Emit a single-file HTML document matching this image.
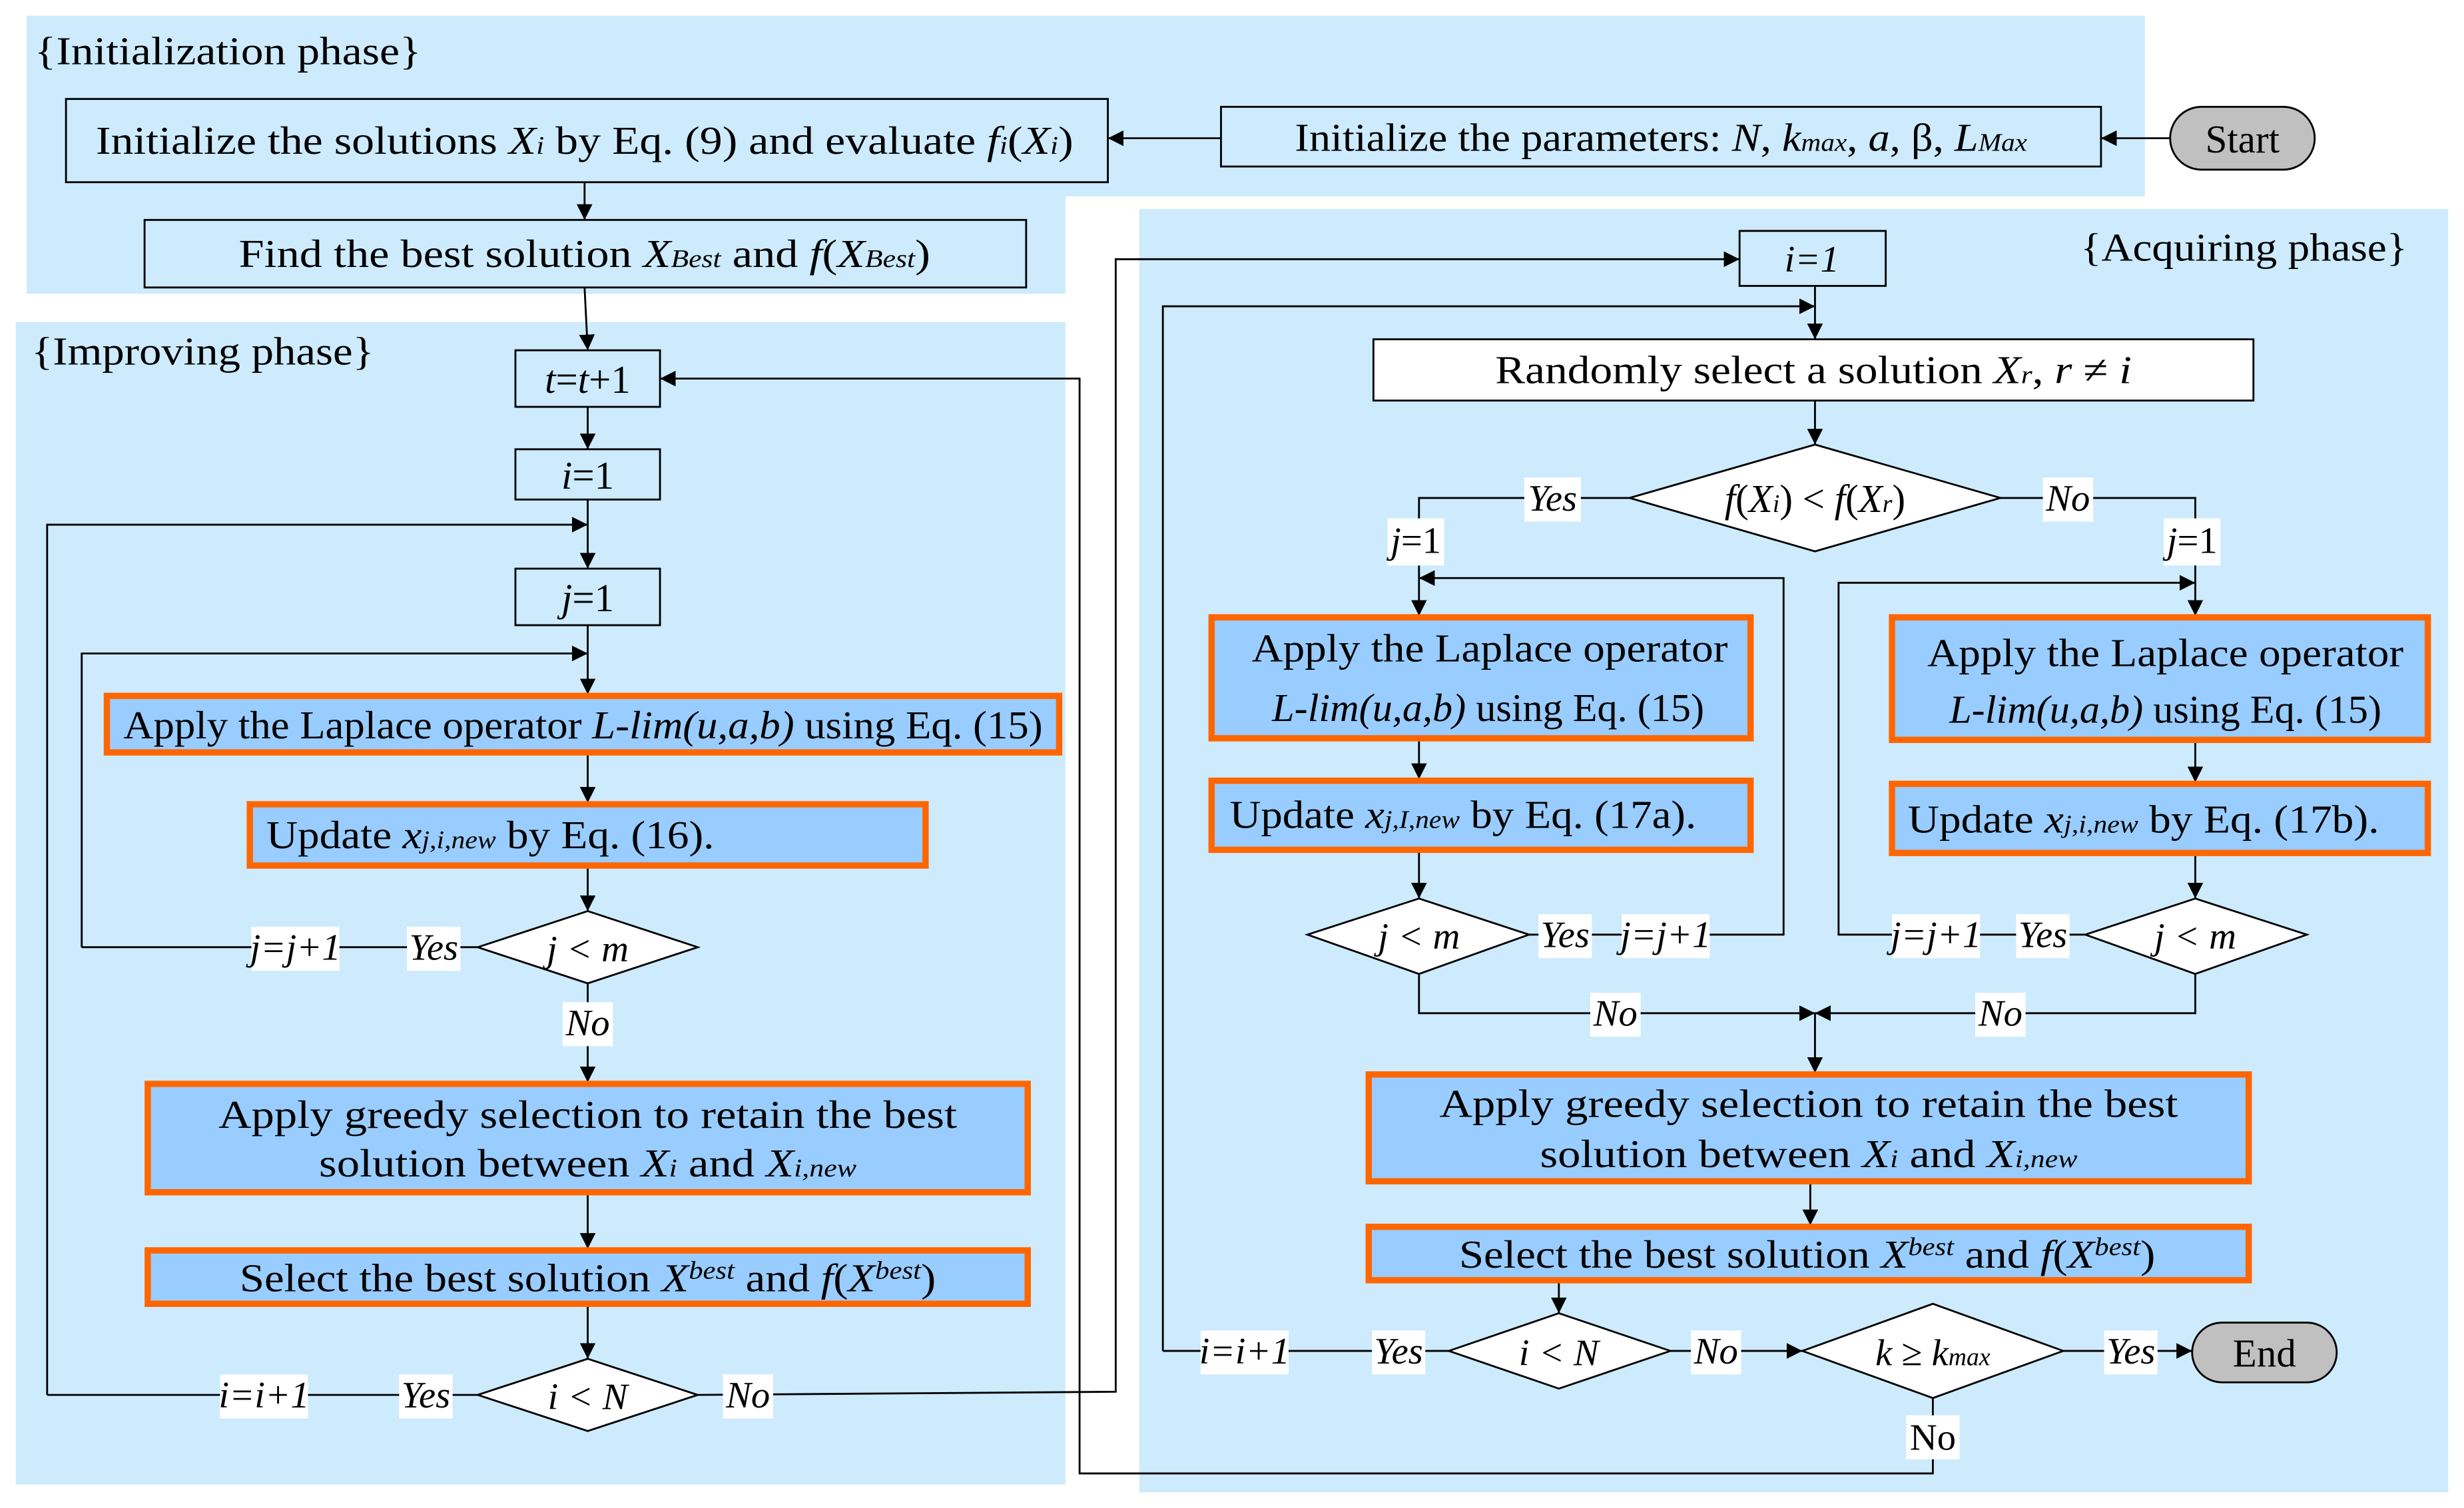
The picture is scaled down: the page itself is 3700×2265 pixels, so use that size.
<!DOCTYPE html>
<html><head><meta charset="utf-8"><style>html,body{margin:0;padding:0;background:#fff}svg{display:block}</style></head>
<body>
<svg width="3700" height="2265" viewBox="0 0 1568 960" preserveAspectRatio="none" xmlns="http://www.w3.org/2000/svg" font-family="Liberation Serif, serif" font-size="25">
<defs>
<marker id="a" viewBox="0 0 10 10" refX="10" refY="5" markerWidth="10" markerHeight="10" markerUnits="userSpaceOnUse" orient="auto"><path d="M0,0 L10,5 L0,10 z" fill="#000"/></marker>
</defs>
<polygon points="17,10 1365,10 1365,125 678,125 678,187 17,187" fill="#cdebfd"/>
<rect x="10" y="205" width="668" height="740" fill="#cdebfd"/>
<rect x="725" y="133" width="833" height="817" fill="#cdebfd"/>
<text x="22" y="41" textLength="246" lengthAdjust="spacingAndGlyphs">{Initialization phase}</text>
<text x="20" y="232" textLength="218" lengthAdjust="spacingAndGlyphs">{Improving phase}</text>
<text x="1532" y="166" text-anchor="end" textLength="208" lengthAdjust="spacingAndGlyphs">{Acquiring phase}</text>

<g stroke="#000" stroke-width="1.2" fill="none">
<line x1="1381" y1="88" x2="1337" y2="88" marker-end="url(#a)"/>
<line x1="777" y1="88" x2="705" y2="88" marker-end="url(#a)"/>
<line x1="372" y1="116" x2="372" y2="140" marker-end="url(#a)"/>
<line x1="372" y1="183" x2="374" y2="223" marker-end="url(#a)"/>
<line x1="374" y1="259" x2="374" y2="286" marker-end="url(#a)"/>
<line x1="374" y1="318" x2="374" y2="362" marker-end="url(#a)"/>
<polyline points="30,888 30,334 374,334" marker-end="url(#a)"/>
<line x1="374" y1="398" x2="374" y2="442" marker-end="url(#a)"/>
<polyline points="52,603 52,416 374,416" marker-end="url(#a)"/>
<line x1="374" y1="480" x2="374" y2="511" marker-end="url(#a)"/>
<line x1="374" y1="552" x2="374" y2="580" marker-end="url(#a)"/>
<line x1="52" y1="603" x2="304" y2="603"/>
<line x1="374" y1="626" x2="374" y2="689" marker-end="url(#a)"/>
<line x1="374" y1="760" x2="374" y2="795" marker-end="url(#a)"/>
<line x1="374" y1="831" x2="374" y2="865" marker-end="url(#a)"/>
<line x1="30" y1="888" x2="304" y2="888"/>
<polyline points="444,888 710,886 710,165 1107,165" marker-end="url(#a)"/>
<polyline points="1230,890 1230,938 687,938 687,241 420,241" marker-end="url(#a)"/>
<line x1="1155" y1="182" x2="1155" y2="216" marker-end="url(#a)"/>
<polyline points="740,860 740,195 1155,195" marker-end="url(#a)"/>
<line x1="1155" y1="255" x2="1155" y2="283" marker-end="url(#a)"/>
<polyline points="1037,317 903,317 903,392" marker-end="url(#a)"/>
<polyline points="1273,317 1397,317 1397,392" marker-end="url(#a)"/>
<line x1="903" y1="471" x2="903" y2="496" marker-end="url(#a)"/>
<line x1="903" y1="542" x2="903" y2="572" marker-end="url(#a)"/>
<polyline points="973,595 1135,595 1135,368 903,368" marker-end="url(#a)"/>
<line x1="1397" y1="472" x2="1397" y2="498" marker-end="url(#a)"/>
<line x1="1397" y1="544" x2="1397" y2="572" marker-end="url(#a)"/>
<polyline points="1327,595 1170,595 1170,371 1397,371" marker-end="url(#a)"/>
<polyline points="903,620 903,645 1155,645" marker-end="url(#a)"/>
<polyline points="1397,620 1397,645 1155,645" marker-end="url(#a)"/>
<line x1="1155" y1="645" x2="1155" y2="683" marker-end="url(#a)"/>
<line x1="1152" y1="753" x2="1152" y2="780" marker-end="url(#a)"/>
<line x1="992" y1="816" x2="992" y2="836" marker-end="url(#a)"/>
<line x1="740" y1="860" x2="922" y2="860"/>
<line x1="1063" y1="860" x2="1147" y2="860" marker-end="url(#a)"/>
<line x1="1313" y1="860" x2="1395" y2="860" marker-end="url(#a)"/>
</g>

<g stroke="#000" stroke-width="1.2" fill="#fff">
<rect x="42" y="63" width="663" height="53" fill="#cdebfd"/>
<rect x="777" y="68" width="560" height="38" fill="#cdebfd"/>
<rect x="1381" y="68" width="92" height="40" rx="20" fill="#c0c0c0"/>
<rect x="92" y="140" width="561" height="43" fill="#cdebfd"/>
<rect x="328" y="223" width="92" height="36" fill="#cdebfd"/>
<rect x="328" y="286" width="92" height="32" fill="#cdebfd"/>
<rect x="328" y="362" width="92" height="36" fill="#cdebfd"/>
<polygon points="304,603 374,580 444,603 374,626"/>
<polygon points="304,888 374,865 444,888 374,911"/>
<rect x="1107" y="147" width="93" height="35" fill="#cdebfd"/>
<rect x="874" y="216" width="560" height="39"/>
<polygon points="1037,317 1155,283 1273,317 1155,351"/>
<polygon points="832,595 903,572 973,595 903,620"/>
<polygon points="1327,595 1397,572 1468,595 1397,620"/>
<polygon points="922,860 992,836 1063,860 992,884"/>
<polygon points="1147,860 1230,830 1313,860 1230,890"/>
<rect x="1395" y="842" width="92" height="38" rx="19" fill="#c0c0c0"/>
</g>
<g stroke="#ff6600" stroke-width="4" fill="#99ccff">
<rect x="68" y="443" width="606" height="36"/>
<rect x="159" y="512" width="430" height="39"/>
<rect x="94" y="690" width="560" height="69"/>
<rect x="94" y="796" width="560" height="34"/>
<rect x="771" y="393" width="343" height="77"/>
<rect x="771" y="497" width="343" height="44"/>
<rect x="1204" y="393" width="341" height="78"/>
<rect x="1204" y="499" width="341" height="44"/>
<rect x="871" y="684" width="560" height="68"/>
<rect x="871" y="781" width="560" height="34"/>
</g>

<g fill="#fff">
<rect x="160" y="590" width="56" height="28"/><rect x="259" y="590" width="34" height="28"/>
<rect x="358" y="638" width="32" height="28"/>
<rect x="140" y="875" width="56" height="28"/><rect x="254" y="875" width="34" height="28"/>
<rect x="460" y="875" width="32" height="28"/>
<rect x="970" y="304" width="36" height="28"/><rect x="1300" y="304" width="32" height="28"/>
<rect x="883" y="330" width="36" height="30"/><rect x="1377" y="330" width="36" height="30"/>
<rect x="979" y="582" width="34" height="28"/><rect x="1032" y="582" width="56" height="28"/>
<rect x="1204" y="582" width="56" height="28"/><rect x="1283" y="582" width="34" height="28"/>
<rect x="1012" y="632" width="32" height="28"/><rect x="1257" y="632" width="32" height="28"/>
<rect x="764" y="847" width="56" height="28"/><rect x="873" y="847" width="34" height="28"/>
<rect x="1076" y="847" width="32" height="28"/><rect x="1339" y="847" width="34" height="28"/>
<rect x="1213" y="901" width="34" height="28"/>
</g>

<g text-anchor="middle">
<text x="372" y="98" textLength="622" lengthAdjust="spacingAndGlyphs">Initialize the solutions <tspan font-style="italic">X</tspan><tspan font-style="italic" font-size="16">i</tspan> by Eq. (9) and evaluate <tspan font-style="italic">f</tspan><tspan font-style="italic" font-size="16">i</tspan>(<tspan font-style="italic">X</tspan><tspan font-style="italic" font-size="16">i</tspan>)</text>
<text x="1057" y="96" textLength="466" lengthAdjust="spacingAndGlyphs">Initialize the parameters: <tspan font-style="italic">N</tspan>, <tspan font-style="italic">k</tspan><tspan font-style="italic" font-size="16">max</tspan>, <tspan font-style="italic">a</tspan>, β, <tspan font-style="italic">L</tspan><tspan font-style="italic" font-size="16">Max</tspan></text>
<text x="1427" y="97">Start</text>
<text x="372" y="170" textLength="440" lengthAdjust="spacingAndGlyphs">Find the best solution <tspan font-style="italic">X</tspan><tspan font-style="italic" font-size="16">Best</tspan> and  <tspan font-style="italic">f</tspan>(<tspan font-style="italic">X</tspan><tspan font-style="italic" font-size="16">Best</tspan>)</text>
<text x="374" y="250"><tspan font-style="italic">t</tspan>=<tspan font-style="italic">t</tspan>+1</text>
<text x="374" y="311"><tspan font-style="italic">i</tspan>=1</text>
<text x="374" y="389"><tspan font-style="italic">j</tspan>=1</text>
<text x="371" y="470" textLength="585" lengthAdjust="spacingAndGlyphs">Apply the Laplace operator <tspan font-style="italic">L-lim(u,a,b)</tspan> using Eq. (15)</text>
<text x="312" y="540" textLength="285" lengthAdjust="spacingAndGlyphs">Update <tspan font-style="italic">x</tspan><tspan font-style="italic" font-size="16">j,i,new</tspan> by Eq. (16).</text>
<g font-size="24" font-style="italic">
<text x="374" y="612">j &lt; m</text>
<text x="188" y="611">j=j+1</text>
<text x="276" y="611">Yes</text>
<text x="374" y="659">No</text>
<text x="374" y="897">i &lt; N</text>
<text x="168" y="896">i=i+1</text>
<text x="271" y="896">Yes</text>
<text x="476" y="896">No</text>
<text x="1153" y="173">i=1</text>
<text x="988" y="325">Yes</text>
<text x="1316" y="325">No</text>
<text x="903" y="604">j &lt; m</text>
<text x="996" y="603">Yes</text>
<text x="1060" y="603">j=j+1</text>
<text x="1397" y="604">j &lt; m</text>
<text x="1300" y="603">Yes</text>
<text x="1232" y="603">j=j+1</text>
<text x="1028" y="653">No</text>
<text x="1273" y="653">No</text>
<text x="992" y="869">i &lt; N</text>
<text x="792" y="868">i=i+1</text>
<text x="890" y="868">Yes</text>
<text x="1092" y="868">No</text>
<text x="1356" y="868">Yes</text>
</g>
<text x="374" y="718" textLength="470" lengthAdjust="spacingAndGlyphs">Apply greedy selection to retain the best</text>
<text x="374" y="749" textLength="342" lengthAdjust="spacingAndGlyphs">solution between <tspan font-style="italic">X</tspan><tspan font-style="italic" font-size="16">i</tspan> and <tspan font-style="italic">X</tspan><tspan font-style="italic" font-size="16">i,new</tspan></text>
<text x="374" y="822" textLength="443" lengthAdjust="spacingAndGlyphs">Select the best solution <tspan font-style="italic">X</tspan><tspan font-style="italic" font-size="16" dy="-8">best</tspan><tspan dy="8"> and </tspan><tspan font-style="italic">f</tspan>(<tspan font-style="italic">X</tspan><tspan font-style="italic" font-size="16" dy="-8">best</tspan><tspan dy="8">)</tspan></text>

<text x="1154" y="244" textLength="405" lengthAdjust="spacingAndGlyphs">Randomly select a solution <tspan font-style="italic">X</tspan><tspan font-style="italic" font-size="16">r</tspan>, <tspan font-style="italic">r</tspan> ≠ <tspan font-style="italic">i</tspan></text>
<text x="1155" y="326"><tspan font-style="italic">f</tspan>(<tspan font-style="italic">X</tspan><tspan font-style="italic" font-size="16">i</tspan>) &lt; <tspan font-style="italic">f</tspan>(<tspan font-style="italic">X</tspan><tspan font-style="italic" font-size="16">r</tspan>)</text>
<text x="901" y="352" font-size="24"><tspan font-style="italic">j</tspan>=1</text>
<text x="1395" y="352" font-size="24"><tspan font-style="italic">j</tspan>=1</text>
<text x="948" y="421" textLength="303" lengthAdjust="spacingAndGlyphs">Apply the Laplace operator</text>
<text x="947" y="459" textLength="275" lengthAdjust="spacingAndGlyphs"><tspan font-style="italic">L-lim(u,a,b)</tspan> using Eq. (15)</text>
<text x="931" y="527" textLength="297" lengthAdjust="spacingAndGlyphs">Update <tspan font-style="italic">x</tspan><tspan font-style="italic" font-size="16">j,I,new</tspan> by Eq. (17a).</text>
<text x="1378" y="424" textLength="303" lengthAdjust="spacingAndGlyphs">Apply the Laplace operator</text>
<text x="1378" y="460" textLength="275" lengthAdjust="spacingAndGlyphs"><tspan font-style="italic">L-lim(u,a,b)</tspan> using Eq. (15)</text>
<text x="1364" y="530" textLength="300" lengthAdjust="spacingAndGlyphs">Update <tspan font-style="italic">x</tspan><tspan font-style="italic" font-size="16">j,i,new</tspan> by Eq. (17b).</text>
<text x="1151" y="711" textLength="470" lengthAdjust="spacingAndGlyphs">Apply greedy selection to retain the best</text>
<text x="1151" y="743" textLength="342" lengthAdjust="spacingAndGlyphs">solution between <tspan font-style="italic">X</tspan><tspan font-style="italic" font-size="16">i</tspan> and <tspan font-style="italic">X</tspan><tspan font-style="italic" font-size="16">i,new</tspan></text>
<text x="1150" y="807" textLength="443" lengthAdjust="spacingAndGlyphs">Select the best solution <tspan font-style="italic">X</tspan><tspan font-style="italic" font-size="16" dy="-8">best</tspan><tspan dy="8"> and </tspan><tspan font-style="italic">f</tspan>(<tspan font-style="italic">X</tspan><tspan font-style="italic" font-size="16" dy="-8">best</tspan><tspan dy="8">)</tspan></text>
<text x="1230" y="869" font-size="24"><tspan font-style="italic">k</tspan> ≥ <tspan font-style="italic">k</tspan><tspan font-style="italic" font-size="16">max</tspan></text>
<text x="1441" y="870">End</text>
<text x="1230" y="923" font-size="24">No</text>
</g>
</svg>
</body></html>
